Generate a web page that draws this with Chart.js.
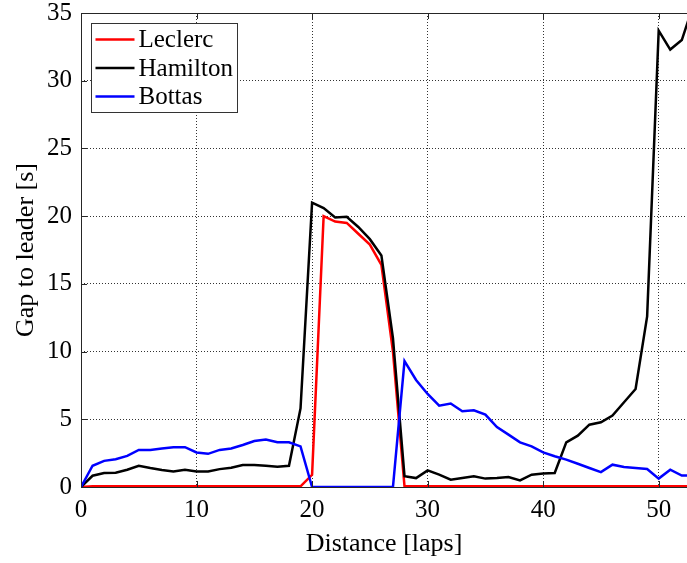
<!DOCTYPE html>
<html>
<head>
<meta charset="utf-8">
<title>Gap to leader</title>
<script src="https://cdn.jsdelivr.net/npm/chart.js@4.4.1/dist/chart.umd.min.js"></script>
<style>
  html, body { margin: 0; padding: 0; background: #fff; }
  #wrap { width: 687px; height: 563px; }
</style>
</head>
<body>
<div id="wrap"><canvas id="gapChart" width="687" height="563"></canvas></div>
<script>
const laps = [0, 1, 2, 3, 4, 5, 6, 7, 8, 9, 10, 11, 12, 13, 14, 15, 16, 17, 18, 19,
  20, 21, 22, 23, 24, 25, 26, 27, 28, 29, 30, 31, 32, 33, 34, 35, 36, 37, 38, 39,
  40, 41, 42, 43, 44, 45, 46, 47, 48, 49, 50, 51, 52, 53];

const leclerc = [0, 0.05, 0.05, 0.05, 0.05, 0.05, 0.05, 0.05, 0.05, 0.05, 0.05, 0.05, 0.05, 0.05, 0.05, 0.05, 0.05, 0.05, 0.05, 0.05,
  0.9, 20.0, 19.6, 19.5, 18.7, 17.9, 16.4, 10.0, 0.05, 0.05, 0.05, 0.05, 0.05, 0.05, 0.05, 0.05, 0.05, 0.05, 0.05, 0.05,
  0.05, 0.05, 0.05, 0.05, 0.05, 0.05, 0.05, 0.05, 0.05, 0.05, 0.05, 0.05, 0.05, 0.05];

const hamilton = [0, 0.83, 1.03, 1.05, 1.27, 1.57, 1.4, 1.25, 1.15, 1.27, 1.15, 1.15, 1.32, 1.42, 1.62, 1.62, 1.57, 1.5, 1.57, 5.8,
  21.0, 20.6, 19.9, 19.95, 19.2, 18.3, 17.1, 11.0, 0.8, 0.66, 1.23, 0.91, 0.54, 0.67, 0.79, 0.62, 0.67, 0.74, 0.49, 0.91,
  0.99, 1.03, 3.3, 3.79, 4.6, 4.78, 5.27, 6.26, 7.24, 12.6, 33.7, 32.3, 33.0, 35.6];

const bottas = [0, 1.57, 1.93, 2.05, 2.3, 2.74, 2.74, 2.84, 2.94, 2.94, 2.55, 2.45, 2.74, 2.84, 3.1, 3.4, 3.5, 3.3, 3.3, 3.0,
  0, 0, 0, 0, 0, 0, 0, 0, 9.3, 7.9, 6.87, 6.01, 6.16, 5.59, 5.67, 5.34, 4.43, 3.87, 3.3, 3.0,
  2.56, 2.27, 2.02, 1.72, 1.4, 1.1, 1.65, 1.48, 1.4, 1.33, 0.62, 1.28, 0.84, 0.84];

const xTicks = [0, 10, 20, 30, 40, 50];
const yTicks = [0, 5, 10, 15, 20, 25, 30, 35];

const FONT = "'Liberation Serif', 'Times New Roman', serif";

function toPoints(values) {
  return laps.map((lap, i) => ({ x: lap, y: values[i] }));
}

// frame, inward ticks and legend like the matlab figure
const matlabAxes = {
  id: "matlabAxes",
  afterDatasetsDraw(chart) {
    const { ctx, chartArea: a, scales } = chart;
    ctx.save();
    ctx.strokeStyle = "#262626";
    ctx.lineWidth = 1;
    ctx.setLineDash([]);
    ctx.strokeRect(a.left + 0.5, a.top + 0.5, a.right - a.left, a.bottom - a.top);

    ctx.beginPath();
    xTicks.forEach(v => {
      const px = Math.round(scales.x.getPixelForValue(v)) + 0.5;
      ctx.moveTo(px, a.bottom); ctx.lineTo(px, a.bottom - 6);
      ctx.moveTo(px, a.top); ctx.lineTo(px, a.top + 6);
    });
    yTicks.forEach(v => {
      const py = Math.round(scales.y.getPixelForValue(v)) + 0.5;
      ctx.moveTo(a.left, py); ctx.lineTo(a.left + 6, py);
    });
    ctx.stroke();

    // legend box
    const bx = a.left + 10.5, by = a.top + 10.5, bw = 146, bh = 89;
    ctx.fillStyle = "#fff";
    ctx.fillRect(bx, by, bw, bh);
    ctx.strokeStyle = "#333";
    ctx.strokeRect(bx, by, bw, bh);
    ctx.font = "25px " + FONT;
    ctx.textBaseline = "middle";
    chart.data.datasets.forEach((ds, i) => {
      const y = by + 16 + i * 28.5;
      ctx.strokeStyle = ds.borderColor;
      ctx.lineWidth = 2.5;
      ctx.beginPath();
      ctx.moveTo(bx + 4, y); ctx.lineTo(bx + 43, y);
      ctx.stroke();
      ctx.fillStyle = "#000";
      ctx.fillText(ds.label, bx + 47, y + 1);
    });
    ctx.restore();
  }
};

const ctx = document.getElementById("gapChart").getContext("2d");

const chart = new Chart(ctx, {
  type: "line",
  data: {
    datasets: [
      { label: "Leclerc", data: toPoints(leclerc), borderColor: "#ff0000", order: 3 },
      { label: "Hamilton", data: toPoints(hamilton), borderColor: "#000000", order: 2 },
      { label: "Bottas", data: toPoints(bottas), borderColor: "#0000ff", order: 1 }
    ]
  },
  options: {
    responsive: false,
    animation: false,
    layout: { padding: { top: 13, right: 0, left: 0, bottom: 0 } },
    elements: {
      line: { borderWidth: 2.5, tension: 0, fill: false },
      point: { radius: 0, hoverRadius: 0 }
    },
    plugins: { legend: { display: false }, tooltip: { enabled: false } },
    scales: {
      x: {
        type: "linear",
        min: 0,
        max: 52.45,
        afterFit(scale) {
          scale.height = 76;
          scale.paddingLeft = 0;
          scale.paddingRight = 0;
        },
        afterBuildTicks(scale) { scale.ticks = xTicks.map(v => ({ value: v })); },
        ticks: { color: "#000", font: { family: FONT, size: 25 }, padding: 8, maxRotation: 0 },
        grid: { color: "rgba(0,0,0,0.8)", drawTicks: false, lineWidth: 1 },
        border: { display: false, dash: [1, 2] },
        title: { display: true, text: "Distance [laps]", color: "#000", font: { family: FONT, size: 26 }, padding: { top: 0, bottom: 3 } }
      },
      y: {
        min: 0,
        max: 35,
        afterFit(scale) {
          scale.width = 81;
          scale.paddingTop = 0;
          scale.paddingBottom = 0;
        },
        afterBuildTicks(scale) { scale.ticks = yTicks.map(v => ({ value: v })); },
        ticks: { color: "#000", font: { family: FONT, size: 25 }, padding: 9 },
        grid: { color: "rgba(0,0,0,0.8)", drawTicks: false, lineWidth: 1 },
        border: { display: false, dash: [1, 2] },
        title: { display: true, text: "Gap to leader [s]", color: "#000", font: { family: FONT, size: 26 }, padding: { top: 11, bottom: 0 } }
      }
    }
  },
  plugins: [matlabAxes]
});
</script>
</body>
</html>
